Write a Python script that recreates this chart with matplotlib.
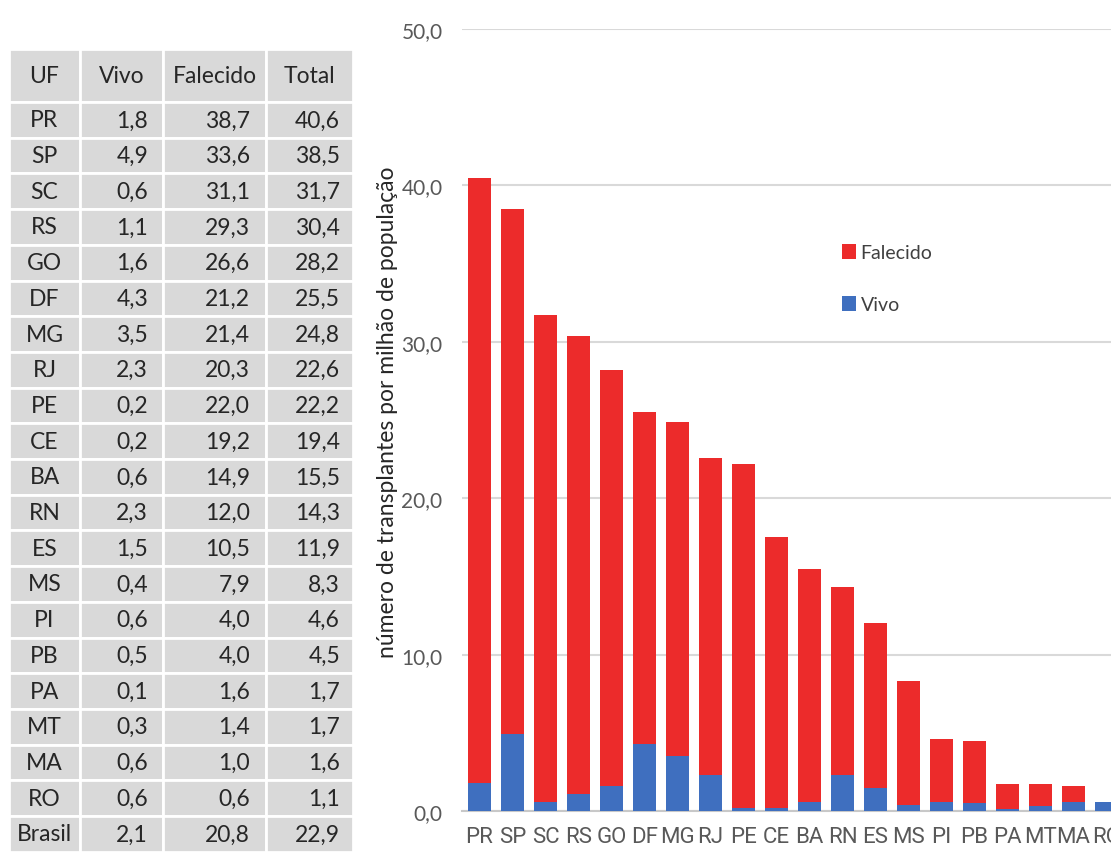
"""Transplantes por milhão de população por UF: tabela e barras empilhadas."""

import matplotlib
matplotlib.use("Agg")
import matplotlib.pyplot as plt
from matplotlib.patches import Rectangle
from matplotlib.ticker import FuncFormatter, MultipleLocator

# tabela
UF = ["PR", "SP", "SC", "RS", "GO", "DF", "MG", "RJ", "PE", "CE",
      "BA", "RN", "ES", "MS", "PI", "PB", "PA", "MT", "MA", "RO", "Brasil"]
VIVO = [1.8, 4.9, 0.6, 1.1, 1.6, 4.3, 3.5, 2.3, 0.2, 0.2,
        0.6, 2.3, 1.5, 0.4, 0.6, 0.5, 0.1, 0.3, 0.6, 0.6, 2.1]
FALECIDO = [38.7, 33.6, 31.1, 29.3, 26.6, 21.2, 21.4, 20.3, 22.0, 19.2,
            14.9, 12.0, 10.5, 7.9, 4.0, 4.0, 1.6, 1.4, 1.0, 0.6, 20.8]
TOTAL = [40.6, 38.5, 31.7, 30.4, 28.2, 25.5, 24.8, 22.6, 22.2, 19.4,
         15.5, 14.3, 11.9, 8.3, 4.6, 4.5, 1.7, 1.7, 1.6, 1.1, 22.9]
HEADER = ["UF", "Vivo", "Falecido", "Total"]

# gráfico (sem a linha Brasil)
BAR_UF = UF[:-1]
BAR_VIVO = VIVO[:-1]
BAR_FALECIDO = [38.7, 33.6, 31.1, 29.3, 26.6, 21.2, 21.4, 20.3, 22.0, 17.3,
                14.9, 12.0, 10.5, 7.9, 4.0, 4.0, 1.6, 1.4, 1.0, 0.0]

RED = "#EC2B2B"
BLUE = "#3F6FBF"
CELL = "#D9D9D9"
TXT = "#262626"
AXTXT = "#595959"
NARROW = ["Liberation Sans Narrow", "DejaVu Sans Condensed", "Roboto"]

W, H = 1111, 853


def fmt(v):
    return f"{v:.1f}".replace(".", ",")


fig = plt.figure(figsize=(W / 100, H / 100), dpi=100)

# --- tabela em coordenadas de pixel ---
tax = fig.add_axes([0, 0, 1, 1])
tax.set_xlim(0, W)
tax.set_ylim(H, 0)
tax.axis("off")

col_edges = [9, 80, 163, 266, 353]
top, head_h, row_h = 50, 53, 35.7
pad_r = [0, 15, 16, 13]

rows = [HEADER] + [[u, fmt(a), fmt(b), fmt(c)]
                   for u, a, b, c in zip(UF, VIVO, FALECIDO, TOTAL)]
y = top
for r, row in enumerate(rows):
    h = head_h if r == 0 else row_h
    for c, text in enumerate(row):
        x0, x1 = col_edges[c], col_edges[c + 1]
        tax.add_patch(Rectangle((x0, y), x1 - x0, h, facecolor=CELL,
                                edgecolor="white", linewidth=2))
        if r == 0 or c == 0:
            tax.text((x0 + x1) / 2, y + h / 2, text, ha="center", va="center",
                     fontsize=16.5, family="Lato", color=TXT)
        else:
            tax.text(x1 - pad_r[c], y + h / 2, text, ha="right", va="center",
                     fontsize=16.5, family="Lato", color=TXT)
    y += h

# --- barras empilhadas ---
spacing = 33.0
left_px = 462
x_lo = -0.53
n_units = 21
ax = fig.add_axes([left_px / W, 41 / H, n_units * spacing / W, 782 / H])
ax.patch.set_alpha(0)

xs = range(len(BAR_UF))
ax.bar(xs, BAR_VIVO, width=0.67, color=BLUE, label="Vivo", zorder=3)
ax.bar(xs, BAR_FALECIDO, width=0.67, bottom=BAR_VIVO, color=RED,
       label="Falecido", zorder=3)

ax.set_xlim(x_lo, x_lo + n_units)
ax.set_ylim(0, 50)
ax.yaxis.set_major_locator(MultipleLocator(10))
ax.yaxis.set_major_formatter(FuncFormatter(lambda v, _: fmt(v)))
ax.grid(axis="y", color="#D9D9D9", linewidth=1.5, zorder=0)
for s in ["top", "right", "left"]:
    ax.spines[s].set_visible(False)
ax.spines["bottom"].set_color("#C8C8C8")
ax.spines["bottom"].set_linewidth(1.5)

ax.set_xticks(list(xs))
ax.set_xticklabels(BAR_UF, family=NARROW, fontsize=16, color=AXTXT)
ax.tick_params(axis="x", length=0, pad=11)
ax.tick_params(axis="y", length=0, pad=14, labelsize=15, labelcolor=AXTXT)
for lab in ax.get_yticklabels():
    lab.set_family("Lato")

fig.text(388 / W, 1 - 412 / H, "número de transplantes por milhão de população",
         rotation=90, ha="center", va="center", fontsize=16.5, family="Lato",
         color=TXT)

handles, labels = ax.get_legend_handles_labels()
fig.legend(handles[::-1], labels[::-1], loc="upper left",
           bbox_to_anchor=(842 / W, 1 - 245 / H), frameon=False,
           borderpad=0, borderaxespad=0, handlelength=0.7, handleheight=0.8,
           handletextpad=0.25, labelspacing=1.8,
           prop={"family": "Lato", "size": 14}, labelcolor="#404040")

fig.savefig("out.png", dpi=100)
